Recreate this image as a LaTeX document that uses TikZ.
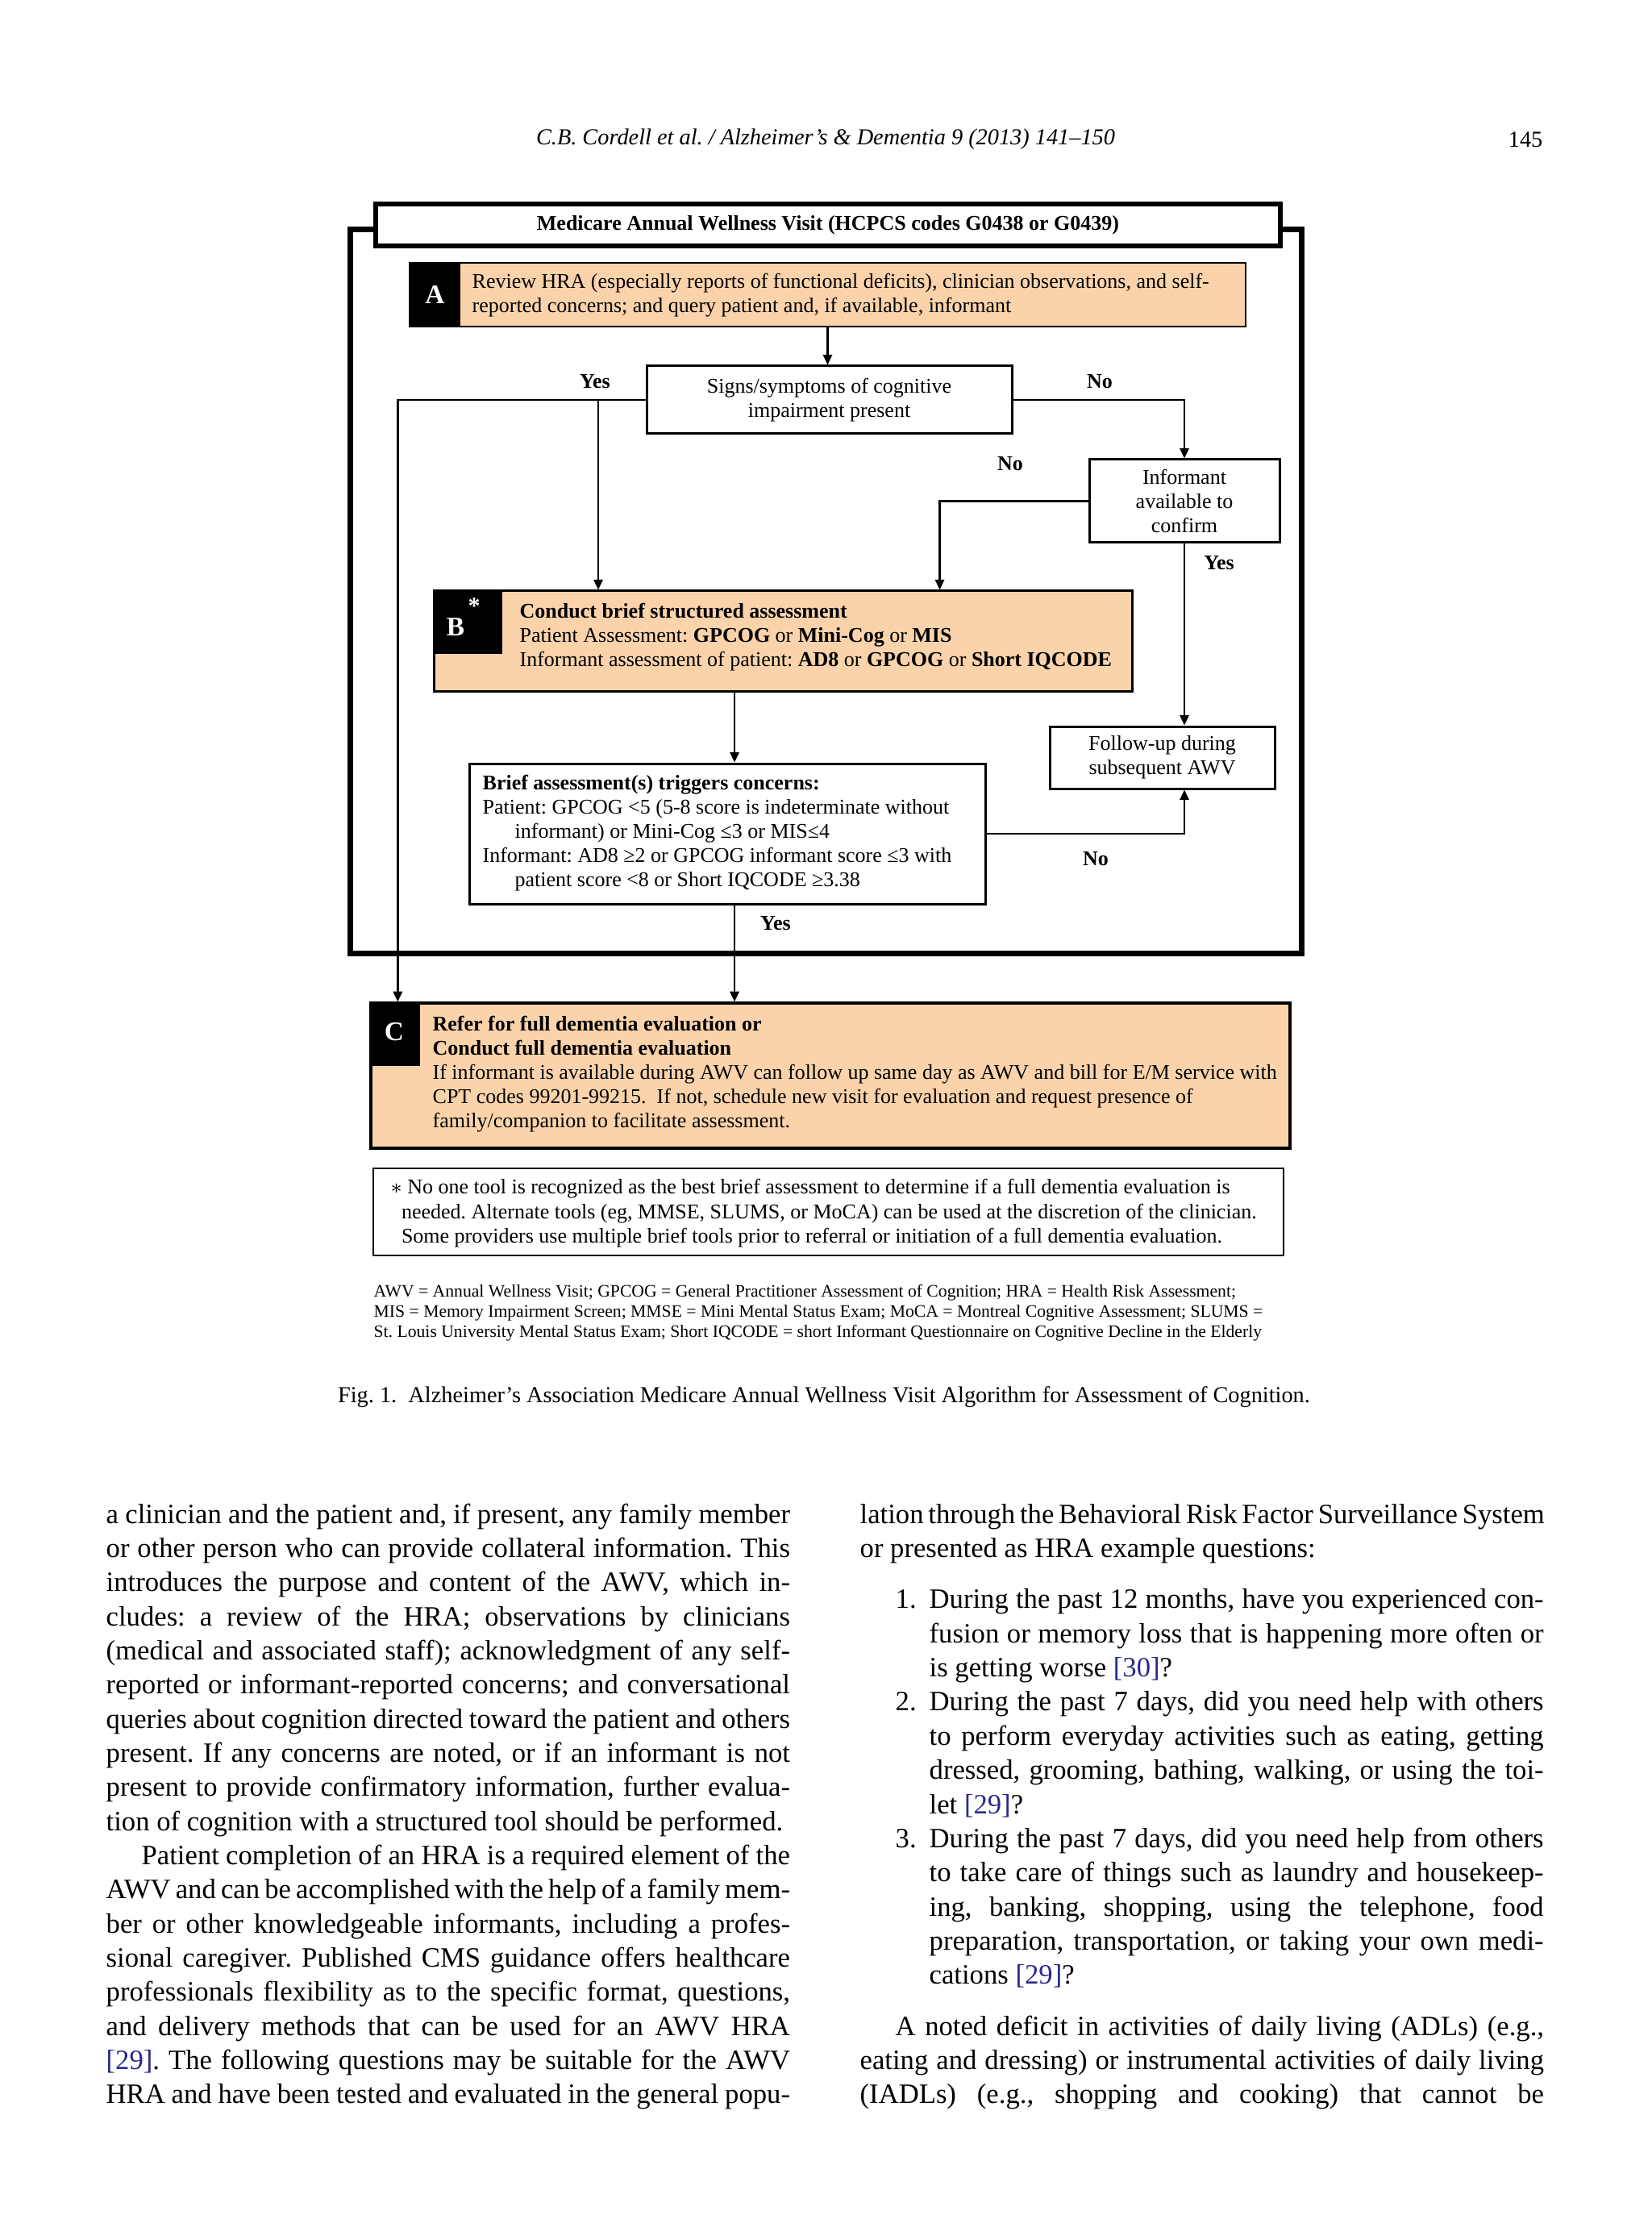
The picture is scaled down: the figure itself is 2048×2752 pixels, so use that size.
\documentclass[tikz,border=0pt]{standalone}
\usepackage{fontspec}
\setmainfont{Liberation Serif}
\usetikzlibrary{fit,calc,arrows.meta}
\definecolor{peach}{RGB}{251,211,170}
\definecolor{refblue}{RGB}{40,40,140}
\newlength{\colw}\setlength{\colw}{254.5pt}
\newlength{\indw}\setlength{\indw}{241.3pt}
\newlength{\itw}\setlength{\itw}{228.6pt}
\newcommand{\J}[1]{\makebox[\colw][s]{#1}}
\newcommand{\JI}[1]{\makebox[\indw][s]{#1}}
\newcommand{\JT}[1]{\makebox[\itw][s]{#1}}
\newcommand{\rf}[1]{\textcolor{refblue}{[#1]}}
\frenchspacing
\tikzset{
  frame/.style={draw, line width=2.1pt, inner sep=0pt},
  tbox/.style={draw, line width=1.8pt, fill=white, inner sep=0pt},
  pbox/.style={draw, line width=0.8pt, fill=peach, inner sep=0pt},
  wbox/.style={draw, line width=0.9pt, fill=white, inner sep=0pt},
  nbox/.style={draw, line width=0.6pt, inner sep=0pt},
  blab/.style={fill=black, inner sep=0pt},
  letter/.style={text=white, inner sep=0pt, font=\fontsize{10}{12}\selectfont\bfseries},
  arr/.style={line width=0.7pt, -{Triangle[length=3.8pt,width=3.4pt]}},
  ftxt/.style={inner sep=0pt, font=\fontsize{7.8}{9}\selectfont},
  yn/.style={inner sep=0pt, font=\fontsize{7.8}{9}\selectfont\bfseries},
  body/.style={anchor=base west, inner sep=0pt, font=\fontsize{10.4}{12}\selectfont},
}
\begin{document}
\begin{tikzpicture}[x=0.3pt,y=-0.3pt]
\useasboundingbox (0,0) rectangle (2048,2752);
\fill[white] (0,0) rectangle (2048,2752);

% header
\node[inner sep=0pt, font=\fontsize{8.5}{10}\selectfont\itshape] (hdr) at (1024,173) {C.B. Cordell et al. / Alzheimer's \& Dementia 9 (2013) 141--150};
\node[inner sep=0pt, anchor=east, font=\fontsize{8.5}{10}\selectfont] (pg) at (1914,173) {145};

% frames
\node[frame, fit={(434.5,284.5)(1614.5,1182.5)}] (outer) {};
\node[tbox, fit={(466,253)(1588,305)}] (title) {};
\node[inner sep=0pt, font=\fontsize{7.8}{9}\selectfont\bfseries] (titletxt) at (title.center) {Medicare Annual Wellness Visit (HCPCS codes G0438 or G0439)};

% A
\node[pbox, fit={(508,326)(1545,405)}] (A) {};
\node[blab, fit={(508,326)(571,405)}] (Alab) {};
\node[letter] (Aletter) at (Alab.center) {A};
\node[ftxt, anchor=west, align=left] (Atxt) at (585,366) {Review HRA (especially reports of functional deficits), clinician observations, and self-\\reported concerns; and query patient and, if available, informant};

% Signs
\node[wbox, fit={(802,454)(1255,538)}] (signs) {};
\node[ftxt, align=center] (signstxt) at (signs.center) {Signs/symptoms of cognitive\\impairment present};

% Informant
\node[wbox, fit={(1351,570)(1587,673)}] (inf) {};
\node[ftxt, align=center] (inftxt) at (inf.center) {Informant\\available to\\confirm};

% B
\node[pbox, line width=0.9pt, fit={(538,733)(1404,857)}] (B) {};
\node[blab, fit={(538,733)(623,811)}] (Blab) {};
\node[letter] (Bletter) at (565,778) {B};
\node[text=white, inner sep=0pt, font=\fontsize{9}{10}\selectfont\bfseries] (Bstar) at (588,752) {*};
\node[ftxt, anchor=west, align=left] (Btxt) at (644,790) {\textbf{Conduct brief structured assessment}\\Patient Assessment: \textbf{GPCOG} or \textbf{Mini-Cog} or \textbf{MIS}\\Informant assessment of patient: \textbf{AD8} or \textbf{GPCOG} or \textbf{Short IQCODE}};

% Follow-up
\node[wbox, fit={(1302,901)(1581,978)}] (fu) {};
\node[ftxt, align=center] (futxt) at (fu.center) {Follow-up during\\subsequent AWV};

% Brief
\node[wbox, fit={(582,947)(1222,1121)}] (brief) {};
\node[ftxt, anchor=west, align=left] (brieftxt) at (598,1033) {\textbf{Brief assessment(s) triggers concerns:}\\Patient: GPCOG <5 (5-8 score is indeterminate without\\\hspace*{12pt}informant) or Mini-Cog ≤3 or MIS≤4\\Informant: AD8 ≥2 or GPCOG informant score ≤3 with\\\hspace*{12pt}patient score <8 or Short IQCODE ≥3.38};

% C
\node[pbox, line width=1pt, fit={(460,1244)(1600,1424)}] (C) {};
\node[blab, fit={(460,1244)(521,1322)}] (Clab) {};
\node[letter] (Cletter) at (489,1280) {C};
\node[ftxt, anchor=west, align=left] (Ctxt) at (536,1332) {\textbf{Refer for full dementia evaluation or}\\\textbf{Conduct full dementia evaluation}\\If informant is available during AWV can follow up same day as AWV and bill for E/M service with\\CPT codes 99201-99215.\ \ If not, schedule new visit for evaluation and request presence of\\family/companion to facilitate assessment.};

% footnote box
\node[nbox, fit={(463,1449)(1592,1557)}] (note) {};
\node[inner sep=0pt, anchor=west, align=left, font=\fontsize{7.8}{9.15}\selectfont] (notetxt) at (484,1505) {$\ast$ No one tool is recognized as the best brief assessment to determine if a full dementia evaluation is\\\hspace*{4pt}needed. Alternate tools (eg, MMSE, SLUMS, or MoCA) can be used at the discretion of the clinician.\\\hspace*{4pt}Some providers use multiple brief tools prior to referral or initiation of a full dementia evaluation.};

% abbreviations
\node[inner sep=0pt, anchor=west, align=left, font=\fontsize{6.5}{7.5}\selectfont] (abbr) at (463,1628) {AWV = Annual Wellness Visit; GPCOG = General Practitioner Assessment of Cognition; HRA = Health Risk Assessment;\\MIS = Memory Impairment Screen; MMSE = Mini Mental Status Exam; MoCA = Montreal Cognitive Assessment; SLUMS =\\St. Louis University Mental Status Exam; Short IQCODE = short Informant Questionnaire on Cognitive Decline in the Elderly};

% caption
\node[inner sep=0pt, font=\fontsize{8.5}{10}\selectfont] (cap) at (1022,1733) {Fig. 1.\ \ Alzheimer's Association Medicare Annual Wellness Visit Algorithm for Assessment of Cognition.};

% connectors
\coordinate (yj) at (742,0);
\coordinate (bx) at ($(B.south west)!0.431!(B.south east)$);
\draw[arr] (A.south) -- (A.south |- signs.north);
\draw[arr] (signs.west) -| ($(C.north west)+(35,0)$);
\draw[arr] (yj |- signs.west) -- (yj |- B.north);
\draw[arr] (signs.east) -| (inf.north);
\draw[arr] (inf.west) -| ($(B.north west)+(629,0)$);
\draw[arr] (inf.south) -- (inf.south |- fu.north);
\draw[arr] (brief.east) -| (inf.south |- fu.south);
\draw[arr] (bx) -- (bx |- brief.north);
\draw[arr] (bx |- brief.south) -- (bx |- C.north);

% labels
\node[yn] (yes1) at (738,473) {Yes};
\node[yn] (no1) at (1364,473) {No};
\node[yn] (no2) at (1253,575) {No};
\node[yn] (yes2) at (1512,698) {Yes};
\node[yn] (no3) at (1359,1065) {No};
\node[yn] (yes3) at (962,1145) {Yes};

% left column
\node[body] (l0) at (131,1889) {\J{a clinician and the patient and, if present, any family member}};
\node[body] (l1) at (131,1931.35) {\J{or other person who can provide collateral information. This}};
\node[body] (l2) at (131,1973.7) {\J{introduces the purpose and content of the AWV, which in-}};
\node[body] (l3) at (131,2016.05) {\J{cludes: a review of the HRA; observations by clinicians}};
\node[body] (l4) at (131,2058.4) {\J{(medical and associated staff); acknowledgment of any self-}};
\node[body] (l5) at (131,2100.75) {\J{reported or informant-reported concerns; and conversational}};
\node[body] (l6) at (131,2143.1) {\J{queries about cognition directed toward the patient and others}};
\node[body] (l7) at (131,2185.45) {\J{present. If any concerns are noted, or if an informant is not}};
\node[body] (l8) at (131,2227.8) {\J{present to provide confirmatory information, further evalua-}};
\node[body] (l9) at (131,2270.15) {tion of cognition with a structured tool should be performed.};
\node[body] (l10) at (175,2312.5) {\JI{Patient completion of an HRA is a required element of the}};
\node[body] (l11) at (131,2354.85) {\J{AWV and can be accomplished with the help of a family mem-}};
\node[body] (l12) at (131,2397.2) {\J{ber or other knowledgeable informants, including a profes-}};
\node[body] (l13) at (131,2439.55) {\J{sional caregiver. Published CMS guidance offers healthcare}};
\node[body] (l14) at (131,2481.9) {\J{professionals flexibility as to the specific format, questions,}};
\node[body] (l15) at (131,2524.25) {\J{and delivery methods that can be used for an AWV HRA}};
\node[body] (l16) at (131,2566.6) {\J{\rf{29}. The following questions may be suitable for the AWV}};
\node[body] (l17) at (131,2608.95) {\J{HRA and have been tested and evaluated in the general popu-}};

% right column
\node[body] (r0) at (1066,1889) {\J{lation through the Behavioral Risk Factor Surveillance System}};
\node[body] (r1) at (1066,1931.35) {or presented as HRA example questions:};
\node[body] (n1) at (1110,1994.9) {1.};
\node[body] (r2) at (1152,1994.9) {\JT{During the past 12 months, have you experienced con-}};
\node[body] (r3) at (1152,2037.2) {\JT{fusion or memory loss that is happening more often or}};
\node[body] (r4) at (1152,2079.6) {is getting worse \rf{30}?};
\node[body] (n2) at (1110,2121.9) {2.};
\node[body] (r5) at (1152,2121.9) {\JT{During the past 7 days, did you need help with others}};
\node[body] (r6) at (1152,2164.3) {\JT{to perform everyday activities such as eating, getting}};
\node[body] (r7) at (1152,2206.6) {\JT{dressed, grooming, bathing, walking, or using the toi-}};
\node[body] (r8) at (1152,2249.0) {let \rf{29}?};
\node[body] (n3) at (1110,2291.3) {3.};
\node[body] (r9) at (1152,2291.3) {\JT{During the past 7 days, did you need help from others}};
\node[body] (r10) at (1152,2333.7) {\JT{to take care of things such as laundry and housekeep-}};
\node[body] (r11) at (1152,2376.0) {\JT{ing, banking, shopping, using the telephone, food}};
\node[body] (r12) at (1152,2418.4) {\JT{preparation, transportation, or taking your own medi-}};
\node[body] (r13) at (1152,2460.7) {cations \rf{29}?};
\node[body] (r14) at (1110,2524.25) {\JI{A noted deficit in activities of daily living (ADLs) (e.g.,}};
\node[body] (r15) at (1066,2566.6) {\J{eating and dressing) or instrumental activities of daily living}};
\node[body] (r16) at (1066,2608.95) {\J{(IADLs) (e.g., shopping and cooking) that cannot be}};
\end{tikzpicture}
\end{document}
